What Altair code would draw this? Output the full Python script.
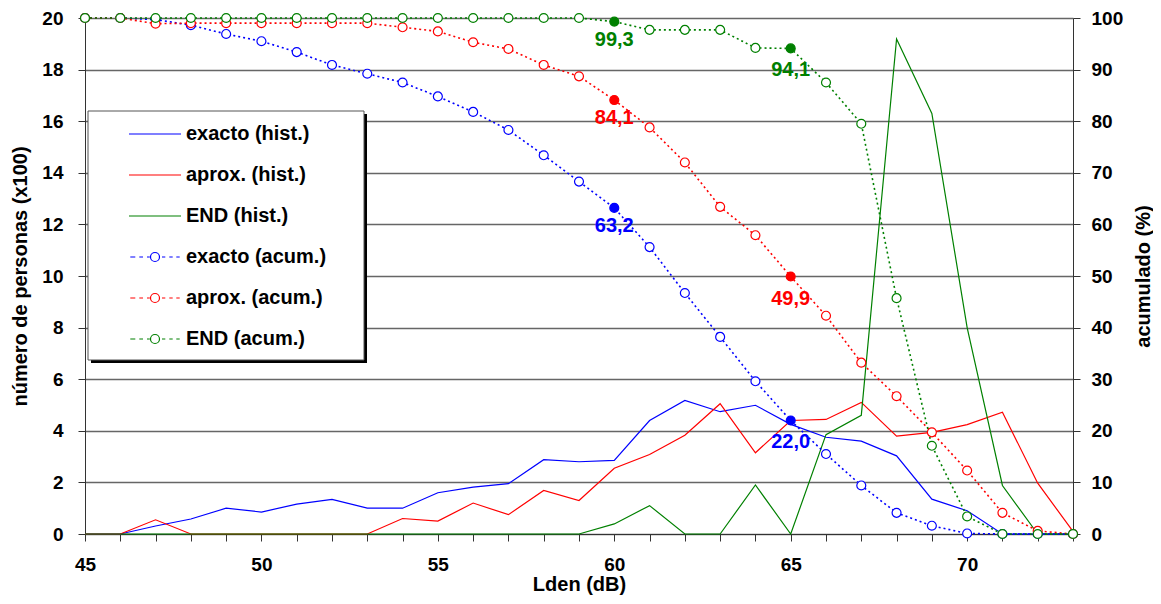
import altair as alt
import pandas as pd

# ---------------- data ----------------
lden = [45, 46, 47, 48, 49, 50, 51, 52, 53, 54, 55, 56, 57, 58, 59,
        60, 61, 62, 63, 64, 65, 66, 67, 68, 69, 70, 71, 72, 73]

hist_exacto = [0, 0, 0.31, 0.58, 1.0, 0.85, 1.16, 1.34, 1.0, 1.0, 1.6, 1.82, 1.95, 2.88, 2.8,
               2.85, 4.4, 5.18, 4.74, 4.99, 4.25, 3.75, 3.6, 3.03, 1.35, 0.9, 0, 0, 0]
hist_aprox = [0, 0, 0.55, 0, 0, 0, 0, 0, 0, 0.6, 0.5, 1.2, 0.75, 1.69, 1.3,
              2.55, 3.08, 3.83, 5.05, 3.15, 4.4, 4.44, 5.1, 3.79, 3.94, 4.24, 4.72, 1.97, 0.1]
hist_end = [0, 0, 0, 0, 0, 0, 0, 0, 0, 0, 0, 0, 0, 0, 0,
            0.39, 1.1, 0, 0, 1.9, 0, 3.85, 4.6, 19.19, 16.3, 8.0, 1.88, 0, 0]

acum_exacto = [100, 100, 99.7, 98.6, 96.9, 95.5, 93.4, 90.9, 89.2, 87.5, 84.8, 81.8, 78.3, 73.4, 68.3,
               63.2, 55.6, 46.7, 38.2, 29.6, 22.0, 15.5, 9.4, 4.1, 1.6, 0.1, 0, 0, 0]
acum_aprox = [100, 100, 98.9, 99.0, 99.0, 99.0, 99.0, 99.0, 99.0, 98.2, 97.4, 95.3, 94.0, 90.9, 88.7,
              84.1, 78.8, 72.0, 63.4, 57.9, 49.9, 42.3, 33.2, 26.7, 19.7, 12.3, 4.1, 0.6, 0]
acum_end = [100, 100, 100, 100, 100, 100, 100, 100, 100, 100, 100, 100, 100, 100, 100,
            99.3, 97.7, 97.7, 97.7, 94.2, 94.1, 87.5, 79.5, 45.7, 17.1, 3.4, 0, 0, 0]

series_hist = ["exacto (hist.)", "aprox. (hist.)", "END (hist.)"]
series_acum = ["exacto (acum.)", "aprox. (acum.)", "END (acum.)"]
series_colors = ["#0000FF", "#FF0000", "#008000"]
marked_levels = [60, 65]

x_ticks = lden
y_left_ticks = [0, 2, 4, 6, 8, 10, 12, 14, 16, 18, 20]
y_right_ticks = [0, 10, 20, 30, 40, 50, 60, 70, 80, 90, 100]

# ---------------- tables ----------------
hist_df = pd.concat([
    pd.DataFrame({"lden": lden, "valor": v, "serie": s})
    for s, v in zip(series_hist, [hist_exacto, hist_aprox, hist_end])
], ignore_index=True)
acum_df = pd.concat([
    pd.DataFrame({"lden": lden, "pct": v, "serie": s})
    for s, v in zip(series_acum, [acum_exacto, acum_aprox, acum_end])
], ignore_index=True)
box_df = pd.DataFrame({"k": [0]})

FONT = "Liberation Sans"

all_series = series_hist + series_acum
all_colors = series_colors + series_colors

# colour expression for the drawn marks (identity colours, so only the legend layer owns a scale)
color_expr = "'#000000'"
for s, c in reversed(list(zip(all_series, all_colors))):
    color_expr = f"datum.serie == '{s}' ? '{c}' : ({color_expr})"

HIST_SYMBOL = "M-1.3,0L1.3,0"
ACUM_SYMBOL = ("M-1.235,0L-0.985,0M-0.785,0L-0.6,0M-0.4,0L-0.26,0"
               "M0.35,0L0.515,0M0.715,0L0.885,0M1.065,0L1.235,0"
               "M-0.225,0A0.225,0.225 0 1,1 0.225,0A0.225,0.225 0 1,1 -0.225,0Z")

color_scale = alt.Scale(domain=all_series, range=all_colors)
shape_scale = alt.Scale(domain=all_series,
                        range=[HIST_SYMBOL] * len(series_hist) + [ACUM_SYMBOL] * len(series_acum))

legend = alt.Legend(
    title=None, orient="none", legendX=49, legendY=95, direction="vertical", columns=1,
    symbolSize=1600, symbolStrokeWidth=1.2, symbolFillColor="white", symbolOpacity=1,
    labelOffset=10, rowPadding=10, padding=0,
    labelFont=FONT, labelFontSize=20, labelFontWeight=700, labelColor="black", labelLimit=400,
)

x_enc = alt.X(
    "lden:Q",
    scale=alt.Scale(domain=[45, 73], nice=False, zero=False),
    axis=alt.Axis(values=x_ticks, labelExpr="datum.value % 5 == 0 ? datum.label : ''",
                  title="Lden (dB)", grid=False, tickSize=7, labelPadding=14, titlePadding=0,
                  labelFlush=False, labelOverlap=False),
)
y_left = alt.Y(
    "valor:Q",
    scale=alt.Scale(domain=[0, 20], nice=False, zero=True),
    axis=alt.Axis(values=y_left_ticks, title="número de personas (x100)", grid=True,
                  tickSize=7, labelPadding=15, titlePadding=11, orient="left"),
)
y_right = alt.Y(
    "pct:Q",
    scale=alt.Scale(domain=[0, 100], nice=False, zero=True),
    axis=alt.Axis(values=y_right_ticks, title="acumulado (%)", grid=False, orient="right",
                  tickSize=7, labelPadding=11, titlePadding=11, titleAngle=270, titleBaseline="top"),
)
col = alt.Color("col:N", scale=None)

shadow = alt.Chart(box_df).mark_rect(color="black").encode(
    x=alt.value(6), x2=alt.value(282), y=alt.value(96), y2=alt.value(345))
frame = alt.Chart(box_df).mark_rect(fill="white", stroke="#555555", strokeWidth=1).encode(
    x=alt.value(3), x2=alt.value(279), y=alt.value(93), y2=alt.value(342))

# legend carrier: draws nothing itself, only provides the combined colour/shape legend
legend_layer = alt.Chart(acum_df).transform_filter("false").mark_point(
    filled=False, fill="white", strokeWidth=1.2, opacity=1
).encode(
    color=alt.Color("serie:N", scale=color_scale, legend=legend),
    shape=alt.Shape("serie:N", scale=shape_scale, legend=legend),
)

hist_lines = alt.Chart(hist_df).transform_calculate(col=color_expr).mark_line(
    strokeWidth=1.2
).encode(x=x_enc, y=y_left, color=col, detail="serie:N")

acum_base = alt.Chart(acum_df).transform_calculate(col=color_expr)
acum_lines = acum_base.mark_line(strokeDash=[2, 3], strokeWidth=1.6).encode(
    x=x_enc, y=y_right, color=col, detail="serie:N")
acum_points = acum_base.mark_point(
    shape="circle", filled=False, fill="white", size=80, strokeWidth=1.2, opacity=1
).encode(x=x_enc, y=y_right, color=col)

marked = acum_base.transform_filter(
    alt.FieldOneOfPredicate(field="lden", oneOf=marked_levels)
).transform_calculate(
    lbl="replace(format(datum.pct, '.1f'), '.', ',')"
)
marked_points = marked.mark_point(shape="circle", filled=True, size=80, opacity=1).encode(
    x=x_enc, y=y_right, color=col)
labels_60 = marked.transform_filter("datum.lden == 60").mark_text(
    dy=18, fontSize=20, fontWeight="bold", font=FONT
).encode(x=x_enc, y=y_right, color=col, text="lbl:N")
labels_65 = marked.transform_filter("datum.lden == 65").mark_text(
    dy=22, fontSize=20, fontWeight="bold", font=FONT
).encode(x=x_enc, y=y_right, color=col, text="lbl:N")

right = alt.layer(acum_lines, acum_points, marked_points, labels_60, labels_65)

chart = alt.layer(shadow, frame, legend_layer, hist_lines, right).resolve_scale(
    y="independent"
).properties(
    width=988, height=516,
    autosize=alt.AutoSizeParams(type="none"),
    padding={"left": 77, "top": 10, "right": 80, "bottom": 62},
).configure(
    font=FONT,
).configure_view(
    stroke="transparent",
).configure_legend(
    labelFont=FONT, labelFontSize=20, labelFontWeight=700, labelColor="black",
).configure_axis(
    labelFont=FONT, labelFontSize=19, labelFontWeight="bold", labelColor="black",
    titleFont=FONT, titleFontSize=20, titleFontWeight="bold", titleColor="black",
    domainColor="#333333", tickColor="#333333", gridColor="#666666", gridWidth=1.3,
)

chart.save("out.html", embed_options={"renderer": "svg", "actions": False})
